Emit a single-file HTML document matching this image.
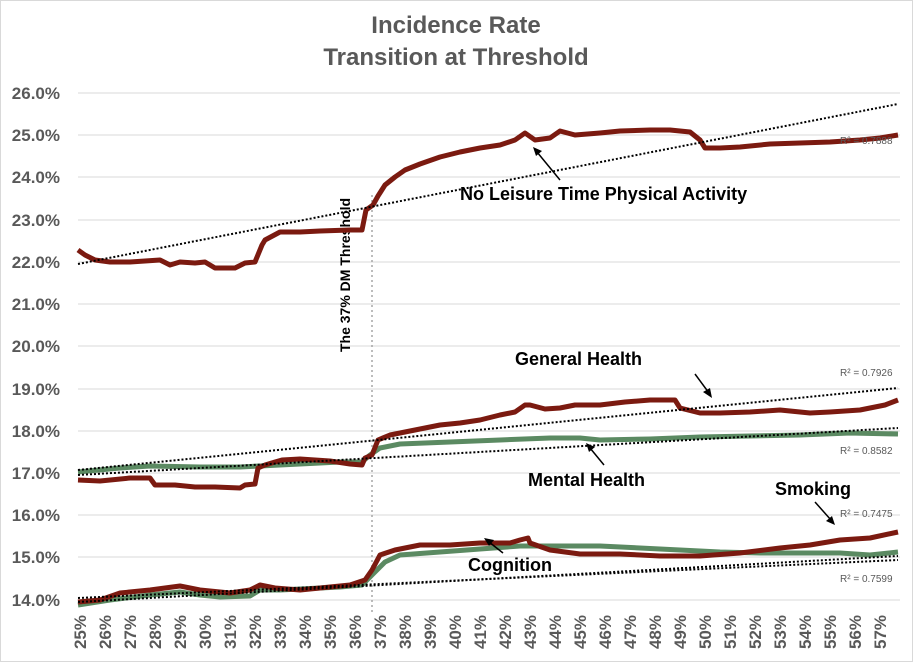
<!DOCTYPE html><html><head><style>body{margin:0;background:#fff}svg{display:block}text{font-family:"Liberation Sans",sans-serif}</style></head><body>
<svg width="913" height="662" viewBox="0 0 913 662">
<rect x="0.5" y="0.5" width="912" height="661" fill="#fff" stroke="#d9d9d9"/>
<text x="456" y="33" text-anchor="middle" font-size="24" font-weight="bold" fill="#595959">Incidence Rate</text>
<text x="456" y="65" text-anchor="middle" font-size="24" font-weight="bold" fill="#595959">Transition at Threshold</text>
<g stroke="#d9d9d9" stroke-width="1">
<line x1="78" x2="900" y1="93" y2="93"/><line x1="78" x2="900" y1="135" y2="135"/><line x1="78" x2="900" y1="177" y2="177"/><line x1="78" x2="900" y1="220" y2="220"/><line x1="78" x2="900" y1="262" y2="262"/><line x1="78" x2="900" y1="304" y2="304"/><line x1="78" x2="900" y1="346" y2="346"/><line x1="78" x2="900" y1="389" y2="389"/><line x1="78" x2="900" y1="431" y2="431"/><line x1="78" x2="900" y1="473" y2="473"/><line x1="78" x2="900" y1="515" y2="515"/><line x1="78" x2="900" y1="557" y2="557"/><line x1="78" x2="900" y1="600" y2="600"/></g>
<g font-size="17" font-weight="bold" fill="#595959" text-anchor="end">
<text x="60" y="99">26.0%</text><text x="60" y="141">25.0%</text><text x="60" y="183">24.0%</text><text x="60" y="226">23.0%</text><text x="60" y="268">22.0%</text><text x="60" y="310">21.0%</text><text x="60" y="352">20.0%</text><text x="60" y="395">19.0%</text><text x="60" y="437">18.0%</text><text x="60" y="479">17.0%</text><text x="60" y="521">16.0%</text><text x="60" y="563">15.0%</text><text x="60" y="606">14.0%</text></g>
<g id="xl" font-size="17" font-weight="bold" fill="#595959" text-anchor="end"></g>
<line x1="372" y1="195" x2="372" y2="612" stroke="#a6a6a6" stroke-width="1.5" stroke-dasharray="2,3"/>
<text transform="translate(350,275) rotate(-90)" text-anchor="middle" font-size="14" font-weight="bold" fill="#000">The 37% DM Threshold</text>
<g fill="none" stroke-linejoin="round" stroke-width="5">
<polyline stroke="#7b1a10" points="78,250 85,255 95,260 110,262 130,262 160,260 170,265 180,262 195,263 205,262 215,268 235,268 245,263 255,262 262,245 265,240 280,232 300,232 320,231 350,230 362,230 366,210 373,205 378,196 385,185 395,177 405,170 420,164 440,157 460,152 480,148 500,145 515,140 525,133 535,140 550,138 560,131 575,135 600,133 620,131 650,130 670,130 690,132 700,140 705,148 720,148 740,147 770,144 800,143 830,142 860,140 880,138 898,135"/>
<polyline stroke="#5b8a62" points="78,472 120,468 150,466 200,467 240,467 260,466 300,464 340,462 362,462 370,455 380,448 400,444 450,442 500,440 550,438 580,438 600,440 650,439 700,437 750,436 800,435 850,433 898,434"/>
<polyline stroke="#7b1a10" points="78,480 100,481 130,478 150,478 155,485 175,485 195,487 215,487 240,488 245,485 255,484 258,468 265,465 275,462 282,460 300,459 330,461 350,464 362,465 365,458 372,455 378,440 390,435 400,433 420,429 440,425 460,423 480,420 500,415 515,412 525,405 530,405 545,409 560,408 575,405 600,405 625,402 650,400 675,400 680,408 700,413 720,413 750,412 780,410 810,413 830,412 860,410 885,405 898,400"/>
<polyline stroke="#5b8a62" points="78,605 110,600 150,595 180,592 200,595 220,597 250,596 260,590 280,590 300,589 340,587 362,585 372,575 385,562 400,555 440,552 480,549 520,546 560,546 600,546 640,548 680,550 720,552 760,553 800,553 840,553 870,555 898,552"/>
<polyline stroke="#7b1a10" points="78,602 100,600 120,593 150,590 180,586 200,590 210,591 230,593 250,590 260,585 275,588 300,590 320,588 350,585 365,580 372,570 380,555 395,550 420,545 450,545 480,543 510,543 520,540 528,538 530,543 550,550 580,554 620,554 660,556 700,556 740,553 780,548 810,545 840,540 870,538 898,532"/>
</g>
<g stroke="#000" stroke-width="2" stroke-dasharray="2,2">
<line x1="78" y1="264" x2="898" y2="104"/><line x1="78" y1="470" x2="898" y2="388"/><line x1="78" y1="475" x2="898" y2="428"/><line x1="78" y1="598" x2="898" y2="560"/><line x1="78" y1="602" x2="898" y2="556"/></g>
<g font-size="10" fill="#595959"><text x="840" y="144">R² = 0.7888</text><text x="840" y="376">R² = 0.7926</text><text x="840" y="454">R² = 0.8582</text><text x="840" y="517">R² = 0.7475</text><text x="840" y="582">R² = 0.7599</text></g>
<g font-size="18" font-weight="bold" fill="#000">
<text x="460" y="200">No Leisure Time Physical Activity</text>
<text x="515" y="365">General Health</text>
<text x="528" y="486">Mental Health</text>
<text x="468" y="571">Cognition</text>
<text x="775" y="495">Smoking</text></g>
<g stroke="#000" stroke-width="1.5" fill="#000">
<line x1="560" y1="180" x2="537" y2="152"/><polygon points="533,147 542,151 536,156" stroke="none"/>
<line x1="695" y1="374" x2="709" y2="393"/><polygon points="712,398 703,392 710,388" stroke="none"/>
<line x1="604" y1="465" x2="590" y2="448"/><polygon points="586,443 595,447 589,452" stroke="none"/>
<line x1="503" y1="553" x2="489" y2="542"/><polygon points="484,538 494,540 489,546" stroke="none"/>
<line x1="815" y1="502" x2="831" y2="520"/><polygon points="835,525 826,521 832,516" stroke="none"/>
</g>
</svg>
<script>
var g=document.getElementById('xl'),s='';
for(var i=0;i<33;i++){var x=86+i*25;s+='<text transform="translate('+x+',615) rotate(-90)">'+(25+i)+'%</text>';}
g.innerHTML=s;
</script>
</body></html>
